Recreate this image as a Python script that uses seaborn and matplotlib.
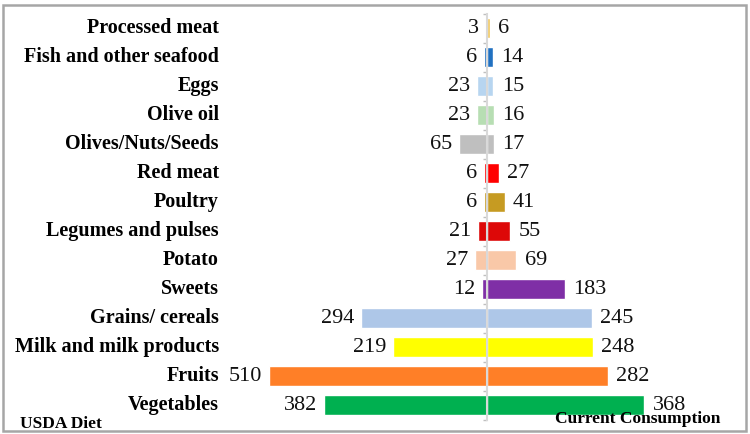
import matplotlib
matplotlib.use("Agg")
import matplotlib.pyplot as plt
import matplotlib.transforms as mtransforms
from matplotlib.patches import Rectangle
import seaborn as sns
import pandas as pd
import numpy as np

categories = ["Processed meat", "Fish and other seafood", "Eggs", "Olive oil",
              "Olives/Nuts/Seeds", "Red meat", "Poultry", "Legumes and pulses",
              "Potato", "Sweets", "Grains/ cereals", "Milk and milk products",
              "Fruits", "Vegetables"]
usda_diet = [3, 6, 23, 23, 65, 6, 6, 21, 27, 12, 294, 219, 510, 382]
current_consumption = [6, 14, 15, 16, 17, 27, 41, 55, 69, 183, 245, 248, 282, 368]
colors = ["#F0C75E", "#2171C1", "#B7D5F0", "#B7DEB3", "#BFBFBF", "#FF0000",
          "#C69B22", "#DD0808", "#F9C8A8", "#7F2FA6", "#AEC7E8", "#FFFF00",
          "#FF7F27", "#00B050"]

sns.set_theme(style="white")
plt.rcParams["font.family"] = ["Liberation Serif", "DejaVu Serif"]

df = pd.DataFrame({"category": categories,
                   "usda": [-v for v in usda_diet],
                   "current": current_consumption})

fig = plt.figure(figsize=(7.5, 4.34), dpi=100)
W, H = 750, 434
ax = fig.add_axes([225 / W, 14.5 / H, (740 - 225) / W, (419.5 - 13.5) / H])

sns.barplot(data=df, x="usda", y="category", hue="category", palette=colors,
            order=categories, hue_order=categories, width=0.72, legend=False,
            orient="h", ax=ax, saturation=1)
sns.barplot(data=df, x="current", y="category", hue="category", palette=colors,
            order=categories, hue_order=categories, width=0.72, legend=False,
            orient="h", ax=ax, saturation=1)

ax.set_xlim(-613, 592)
ax.set_ylim(len(categories) - 0.5, -0.5)

# value labels
n = len(categories)
left_containers = ax.containers[:n]
right_containers = ax.containers[n:]
for c, v in zip(left_containers, usda_diet):
    ax.bar_label(c, labels=[str(v)], padding=5, fontsize=16, color="#111111")
for c, v in zip(right_containers, current_consumption):
    ax.bar_label(c, labels=[str(v)], padding=6, fontsize=16, color="#111111")

# center axis
for s in ["top", "right", "bottom"]:
    ax.spines[s].set_visible(False)
ax.spines["left"].set_position(("data", 0))
ax.spines["left"].set_color("#D9D9D9")
ax.spines["left"].set_linewidth(1.5)
ax.set_yticks(range(n))
ax.set_yticklabels([])
ax.set_yticks(np.arange(-0.5, n, 1.0), minor=True)
ax.tick_params(axis="y", which="major", length=0)
ax.tick_params(axis="y", which="minor", length=3, width=1, color="#BFBFBF",
               direction="out", left=True)
ax.set_xticks([])
ax.set_xlabel("")
ax.set_ylabel("")

trans = mtransforms.blended_transform_factory(fig.transFigure, ax.transData)
for i, cat in enumerate(categories):
    ax.text(219 / W, i, cat, transform=trans, ha="right", va="center",
            fontsize=14.5, fontweight="bold", color="#000000")

fig.text(20 / W, 1 - 424 / H, "USDA Diet", ha="left", va="center",
         fontsize=12.5, fontweight="bold", color="#000000")
fig.text(555 / W, 1 - 419 / H, "Current Consumption", ha="left", va="center",
         fontsize=12.5, fontweight="bold", color="#000000")

fig.patches.append(Rectangle((3 / W, 3 / H), (746 - 3) / W, (430 - 4) / H,
                             transform=fig.transFigure, fill=False,
                             edgecolor="#A6A6A6", linewidth=1.8))

fig.savefig("out.png", dpi=100)
